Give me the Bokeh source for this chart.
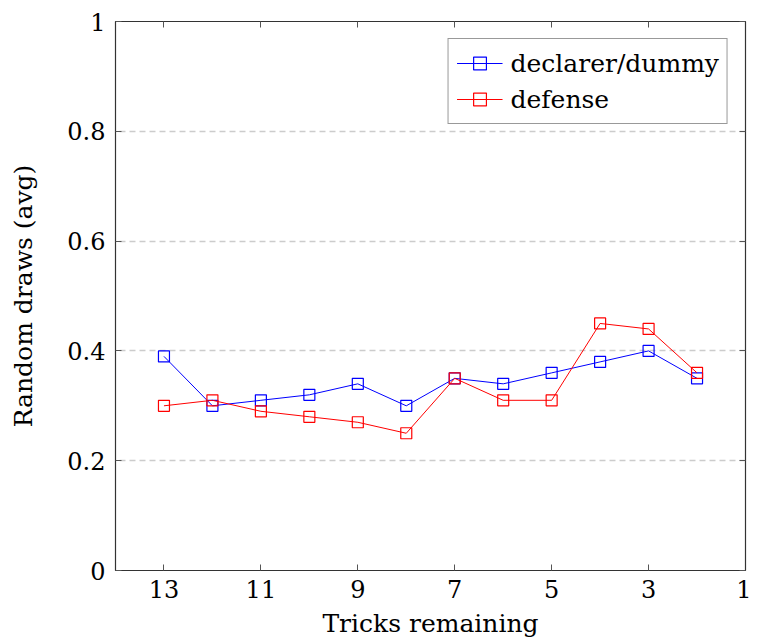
from bokeh.plotting import figure
from bokeh.models import Range1d, FixedTicker, LinearAxis, Legend, LegendItem
from bokeh.embed import file_html
from bokeh.resources import INLINE

tricks = [13, 12, 11, 10, 9, 8, 7, 6, 5, 4, 3, 2]
declarer = [0.39, 0.30, 0.31, 0.32, 0.34, 0.30, 0.35, 0.34, 0.36, 0.38, 0.40, 0.35]
defense = [0.30, 0.31, 0.29, 0.28, 0.27, 0.25, 0.35, 0.31, 0.31, 0.45, 0.44, 0.36]
x_ticks = [13, 11, 9, 7, 5, 3, 1]
y_ticks = [0, 0.2, 0.4, 0.6, 0.8, 1]
y_labels = ["0", "0.2", "0.4", "0.6", "0.8", "1"]

FONT = "DejaVu Serif"

p = figure(width=751, height=640, output_backend="svg", toolbar_location=None,
           x_range=Range1d(14, 1), y_range=Range1d(0, 1),
           min_border_left=115, min_border_right=6, min_border_top=21, min_border_bottom=69)
p.background_fill_color = "white"
p.border_fill_color = "white"
p.outline_line_color = "#333333"
p.outline_line_width = 1.2

p.xgrid.visible = False
p.ygrid.ticker = FixedTicker(ticks=[0.2, 0.4, 0.6, 0.8])
p.ygrid.grid_line_color = "#cccccc"
p.ygrid.grid_line_dash = "6 4"
p.ygrid.grid_line_width = 1.5

def style_axis(ax, show_labels=True):
    ax.major_tick_in = 6
    ax.major_tick_out = 0
    ax.minor_tick_in = 0
    ax.minor_tick_out = 0
    ax.axis_line_color = "#333333"
    ax.major_tick_line_color = "#555555"
    ax.major_label_text_font = FONT
    ax.major_label_text_font_size = "24px"
    ax.major_label_text_color = "black"
    ax.axis_label_text_font = FONT
    ax.axis_label_text_font_size = "25px"
    ax.axis_label_text_font_style = "normal"
    ax.axis_label_text_color = "black"
    if not show_labels:
        ax.major_label_text_font_size = "0px"
        ax.major_label_text_alpha = 0

p.xaxis.ticker = FixedTicker(ticks=x_ticks)
p.yaxis.ticker = FixedTicker(ticks=y_ticks)
p.yaxis.major_label_overrides = {t: l for t, l in zip(y_ticks, y_labels)}
p.xaxis.axis_label = "Tricks remaining"
p.yaxis.axis_label = "Random draws (avg)"
style_axis(p.xaxis[0])
style_axis(p.yaxis[0])
p.xaxis.major_label_standoff = 9
p.yaxis.major_label_standoff = 10
p.xaxis.axis_label_standoff = 8
p.yaxis.axis_label_standoff = 26

top = LinearAxis(ticker=FixedTicker(ticks=x_ticks))
style_axis(top, False)
top.major_label_standoff = 0
p.add_layout(top, "above")
right = LinearAxis(ticker=FixedTicker(ticks=y_ticks))
style_axis(right, False)
right.major_label_standoff = 0
p.add_layout(right, "right")

l1 = p.line(tricks, declarer, line_color="blue", line_width=1)
m1 = p.scatter(tricks, declarer, marker="square", size=11, fill_color=None,
               line_color="blue", line_width=1.2)
l2 = p.line(tricks, defense, line_color="red", line_width=1)
m2 = p.scatter(tricks, defense, marker="square", size=11, fill_color=None,
               line_color="red", line_width=1.2)

legend = Legend(items=[LegendItem(label="declarer/dummy", renderers=[l1, m1]),
                       LegendItem(label="defense", renderers=[l2, m2])],
                location="top_right")
legend.label_text_font = FONT
legend.label_text_font_size = "25px"
legend.label_text_color = "black"
legend.border_line_color = "#333333"
legend.border_line_width = 1.2
legend.margin = 17
legend.padding = 8
legend.spacing = 4
legend.glyph_width = 46
legend.label_standoff = 8
legend.label_height = 32
legend.glyph_height = 32
legend.background_fill_alpha = 1
p.add_layout(legend)

open("out.html", "w").write(file_html(p, INLINE))
